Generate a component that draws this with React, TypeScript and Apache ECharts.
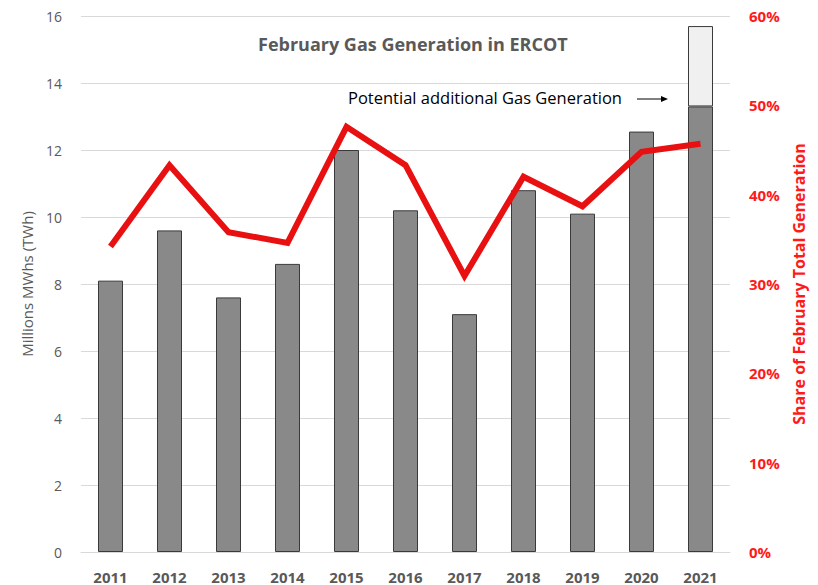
import React, { useEffect, useRef } from "react";
import * as echarts from "echarts";

const years = ["2011", "2012", "2013", "2014", "2015", "2016", "2017", "2018", "2019", "2020", "2021"];
const gasTWh = [8.1, 9.6, 7.6, 8.6, 12.0, 10.2, 7.1, 10.8, 10.1, 12.55, 13.3];
const additionalTWh = [null, null, null, null, null, null, null, null, null, null, 2.4];
const sharePct = [34.2, 43.3, 35.8, 34.6, 47.6, 43.3, 30.9, 42.0, 38.7, 44.8, 45.7];

const FONT = "'Open Sans', sans-serif";

export default function App() {
  const ref = useRef<HTMLDivElement>(null);
  useEffect(() => {
    if (!ref.current) return;
    const chart = echarts.init(ref.current, null, { renderer: "svg" });
    chart.setOption({
      animation: false,
      backgroundColor: "#ffffff",
      textStyle: { fontFamily: FONT },
      grid: { left: 81, right: 88, top: 16, bottom: 33 },
      xAxis: {
        type: "category",
        data: years,
        axisTick: { show: false },
        axisLine: { show: true, lineStyle: { color: "#d9d9d9", width: 1 } },
        axisLabel: { color: "#595959", fontSize: 15, fontWeight: "bold", margin: 17, fontFamily: FONT },
      },
      yAxis: [
        {
          type: "value",
          min: 0,
          max: 16,
          interval: 2,
          name: "Millions MWhs (TWh)",
          nameLocation: "middle",
          nameGap: 47,
          nameTextStyle: { color: "#595959", fontSize: 15, fontFamily: FONT },
          axisLabel: { color: "#595959", fontSize: 14, margin: 19, fontFamily: FONT },
          splitLine: { lineStyle: { color: "#d9d9d9", width: 1 } },
          axisLine: { show: false },
          axisTick: { show: false },
        },
        {
          type: "value",
          min: 0,
          max: 60,
          interval: 10,
          position: "right",
          name: "Share of February Total Generation",
          nameLocation: "middle",
          nameGap: 58,
          nameRotate: 90,
          nameTextStyle: { color: "#ff1a1a", fontSize: 16, fontWeight: "bold", fontFamily: FONT },
          axisLabel: { color: "#ff1a1a", fontSize: 15, fontWeight: "bold", margin: 19, formatter: "{value}%", fontFamily: FONT },
          splitLine: { show: false },
          axisLine: { show: false },
          axisTick: { show: false },
        },
      ],
      series: [
        {
          type: "bar",
          stack: "gas",
          data: gasTWh,
          barWidth: 25,
          itemStyle: { color: "#898989", borderColor: "#3a3a3a", borderWidth: 1 },
        },
        {
          type: "bar",
          stack: "gas",
          data: additionalTWh,
          barWidth: 25,
          itemStyle: { color: "#f0f0f0", borderColor: "#3a3a3a", borderWidth: 1 },
        },
        {
          type: "line",
          yAxisIndex: 1,
          data: sharePct,
          symbol: "none",
          lineStyle: { color: "#e81010", width: 6, join: "miter" },
          z: 5,
        },
      ],
      graphic: [
        {
          type: "text",
          left: 258,
          top: 35,
          style: { text: "February Gas Generation in ERCOT", fill: "#595959", fontSize: 18, fontWeight: "bold", fontFamily: FONT },
        },
        {
          type: "text",
          left: 348,
          top: 89,
          style: { text: "Potential additional Gas Generation", fill: "#000000", fontSize: 16.5, fontFamily: FONT },
        },
        {
          type: "line",
          shape: { x1: 637, y1: 99, x2: 663, y2: 99 },
          style: { stroke: "#000000", lineWidth: 1 },
        },
        {
          type: "polygon",
          shape: { points: [[668, 99], [661, 96], [661, 102]] },
          style: { fill: "#000000" },
        },
      ],
    });
    return () => chart.dispose();
  }, []);
  return <div ref={ref} style={{ width: 818, height: 585, position: "absolute", left: 0, top: 0 }} />;
}
